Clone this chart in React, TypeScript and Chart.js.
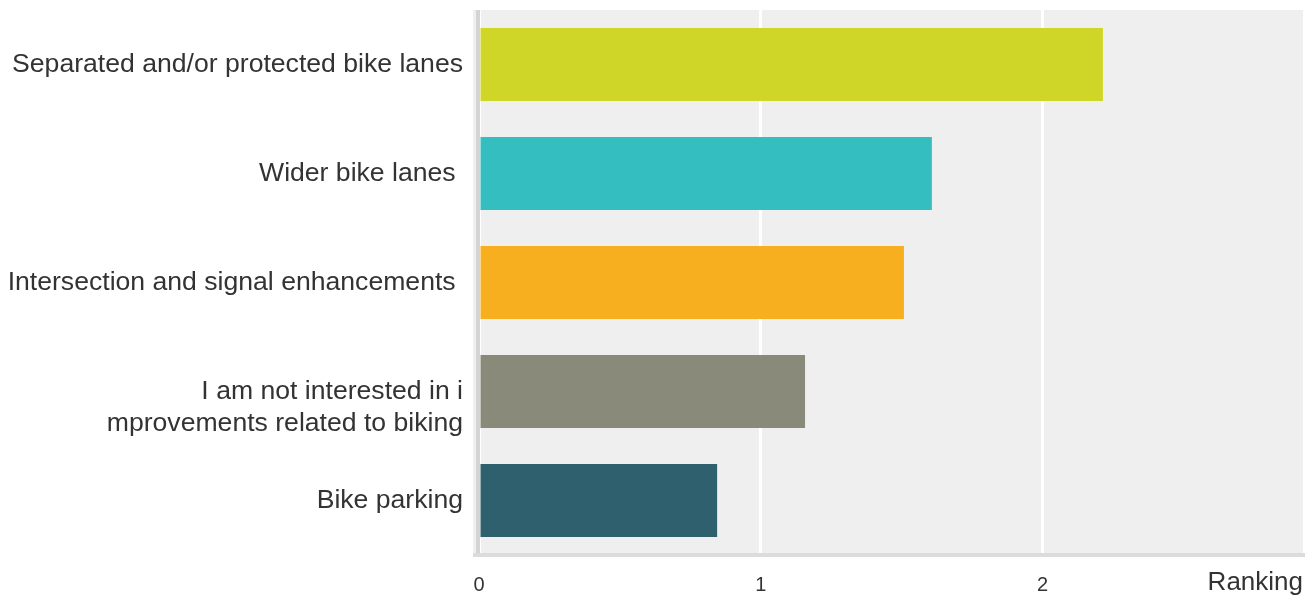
import React, { useEffect, useRef } from "react";
import { Chart, registerables } from "chart.js";

Chart.register(...registerables);

const categories: (string | string[])[] = [
  "Separated and/or protected bike lanes",
  "Wider bike lanes ",
  "Intersection and signal enhancements ",
  ["", "I am not interested in i", "mprovements related to biking"],
  "Bike parking",
];
const rankingValues = [2.214, 1.607, 1.508, 1.157, 0.845];
const barColors = ["#d0d628", "#34bec0", "#f7af1f", "#8a8a7a", "#2f606d"];
const xTicks = [0, 1, 2];
const xMax = 2.924;
const axisTitle = "Ranking";

const FONT = "'Liberation Sans', Arial, Helvetica, sans-serif";

const backgroundPlugin = {
  id: "plotBackground",
  beforeDraw(chart: any) {
    const { ctx, chartArea } = chart;
    ctx.save();
    ctx.fillStyle = "#efefef";
    ctx.fillRect(chartArea.left - 6, chartArea.top, chartArea.right - chartArea.left + 6, chartArea.bottom - chartArea.top);
    ctx.restore();
  },
  beforeDatasetsDraw(chart: any) {
    const { ctx, chartArea } = chart;
    ctx.save();
    ctx.fillStyle = "#d4d4d4";
    ctx.fillRect(chartArea.left - 3, chartArea.top, 4, chartArea.bottom - chartArea.top);
    ctx.fillStyle = "#dcdcdc";
    ctx.fillRect(chartArea.left - 6, chartArea.bottom - 2, chartArea.right - chartArea.left + 8, 4);
    ctx.restore();
  },
};

export default function App() {
  const canvasRef = useRef<HTMLCanvasElement | null>(null);

  useEffect(() => {
    if (!canvasRef.current) return;
    const chart = new Chart(canvasRef.current, {
      type: "bar",
      data: {
        labels: categories,
        datasets: [
          {
            data: rankingValues,
            backgroundColor: barColors,
            borderWidth: 0,
            barPercentage: 0.668,
            categoryPercentage: 1,
          },
        ],
      },
      options: {
        indexAxis: "y",
        animation: false,
        responsive: true,
        maintainAspectRatio: false,
        layout: { padding: { top: 10, right: 4, left: 0, bottom: 0 } },
        plugins: {
          legend: { display: false },
          tooltip: { enabled: false },
        },
        scales: {
          x: {
            min: 0,
            max: xMax,
            afterBuildTicks: (scale: any) => {
              scale.ticks = xTicks.map((v) => ({ value: v }));
            },
            afterFit: (scale: any) => {
              scale.height = 41;
              scale.paddingLeft = 0;
              scale.paddingRight = 0;
            },
            grid: { color: "#ffffff", lineWidth: 3, drawTicks: false },
            border: { display: false },
            ticks: {
              padding: 18,
              color: "#333333",
              font: { family: FONT, size: 20 },
              maxRotation: 0,
            },
            title: {
              display: true,
              text: axisTitle,
              align: "end",
              color: "#333333",
              font: { family: FONT, size: 26, lineHeight: 1 },
              padding: { top: 0, bottom: 0 },
            },
          },
          y: {
            grid: { display: false, drawTicks: false },
            border: { display: false },
            afterFit: (scale: any) => {
              scale.width = 479;
              scale.paddingTop = 0;
              scale.paddingBottom = 0;
            },
            ticks: {
              padding: 16,
              color: "#333333",
              font: { family: FONT, size: 26.6 },
            },
          },
        },
      },
      plugins: [backgroundPlugin],
    });
    return () => chart.destroy();
  }, []);

  return (
    <div style={{ position: "absolute", left: 0, top: 0, width: 1307, height: 596, background: "#ffffff" }}>
      <canvas ref={canvasRef} />
    </div>
  );
}
